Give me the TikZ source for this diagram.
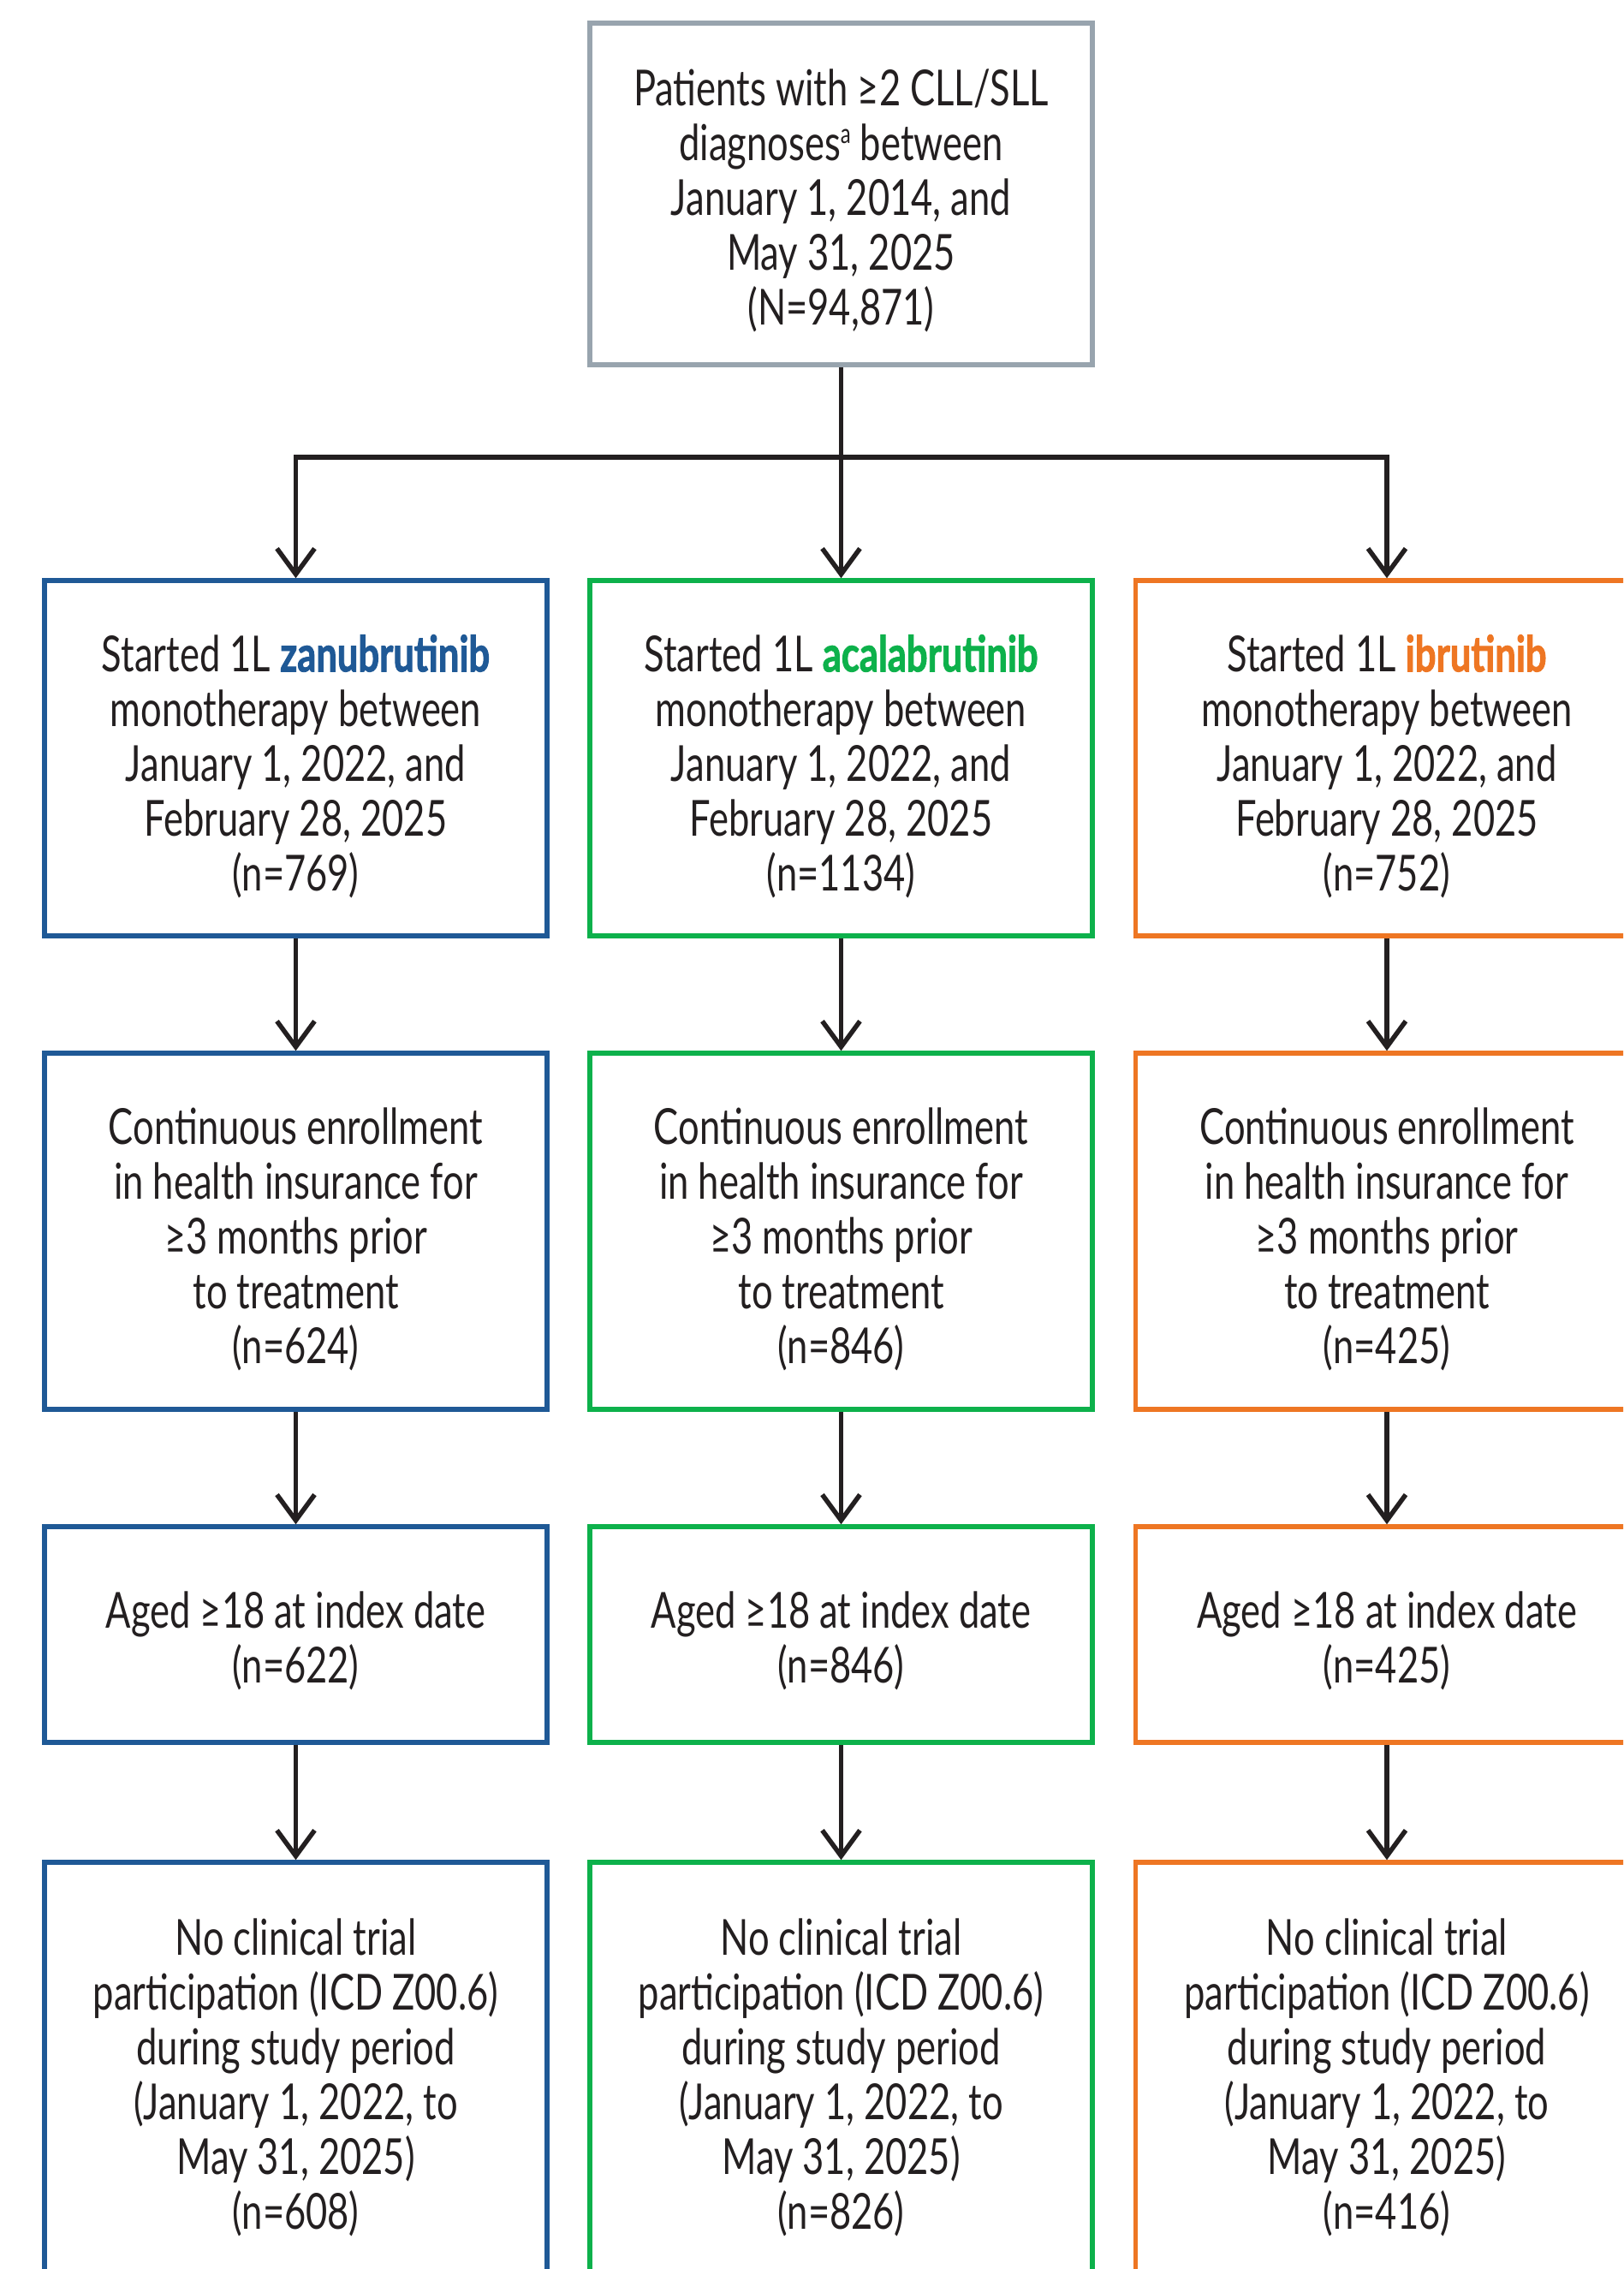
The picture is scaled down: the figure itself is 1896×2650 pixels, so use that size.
\documentclass[tikz,border=0pt]{standalone}
\usepackage{fontspec}
\setmainfont{Lato}[FakeStretch=0.75, BoldFeatures={FakeBold=1.5}]
\usetikzlibrary{arrows.meta}
\definecolor{zblue}{HTML}{1F5996}
\definecolor{agreen}{HTML}{0DB14B}
\definecolor{iorange}{HTML}{EE7623}
\definecolor{tgray}{HTML}{98A4AE}
\definecolor{ink}{HTML}{231F20}
\newcommand{\supa}{\raisebox{20pt}{\fontsize{32}{32}\selectfont a}}
\begin{document}
\begin{tikzpicture}[x=1pt,y=-1pt,
  box/.style={draw, line width=5.5pt, minimum width=587pt, inner sep=0pt},
  txt/.style={align=center, text=ink, inner sep=0pt, font=\fontsize{58}{64}\selectfont},
  topbox/.style={box, draw=tgray, minimum height=399pt},
  zbox/.style={box, draw=zblue},
  abox/.style={box, draw=agreen},
  ibox/.style={box, draw=iorange},
  arr/.style={draw=ink, line width=5.5pt, -{Straight Barb[length=30pt,width=44pt]}}]
\useasboundingbox (0,0) rectangle (1896,2650);
\clip (0,0) rectangle (1896,2650);
\fill[white] (0,0) rectangle (1896,2650);

\node[topbox] (top) at (982.5,226.5) {};
\node[txt] (topt) at (982.5,234) {Patients with ≥2 CLL/SLL\\diagnoses\supa{} between\\January 1, 2014, and\\May 31, 2025\\(N=94,871)};

% row 1
\node[zbox, minimum height=415pt] (z1) at (345.5,885.5) {};
\node[abox, minimum height=415pt] (a1) at (982.5,885.5) {};
\node[ibox, minimum height=415pt] (i1) at (1620,885.5) {};
\node[txt] (z1t) at (345.5,895) {Started 1L \textbf{\color{zblue}zanubrutinib}\\monotherapy between\\January 1, 2022, and\\February 28, 2025\\(n=769)};
\node[txt] (a1t) at (982.5,895) {Started 1L \textbf{\color{agreen}acalabrutinib}\\monotherapy between\\January 1, 2022, and\\February 28, 2025\\(n=1134)};
\node[txt] (i1t) at (1620,895) {Started 1L \textbf{\color{iorange}ibrutinib}\\monotherapy between\\January 1, 2022, and\\February 28, 2025\\(n=752)};

% row 2
\node[zbox, minimum height=416pt] (z2) at (345.5,1438) {};
\node[abox, minimum height=416pt] (a2) at (982.5,1438) {};
\node[ibox, minimum height=416pt] (i2) at (1620,1438) {};
\node[txt] (z2t) at (345.5,1447) {Continuous enrollment\\in health insurance for\\≥3 months prior\\to treatment\\(n=624)};
\node[txt] (a2t) at (982.5,1447) {Continuous enrollment\\in health insurance for\\≥3 months prior\\to treatment\\(n=846)};
\node[txt] (i2t) at (1620,1447) {Continuous enrollment\\in health insurance for\\≥3 months prior\\to treatment\\(n=425)};

% row 3
\node[zbox, minimum height=252pt] (z3) at (345.5,1909) {};
\node[abox, minimum height=252pt] (a3) at (982.5,1909) {};
\node[ibox, minimum height=252pt] (i3) at (1620,1909) {};
\node[txt] (z3t) at (345.5,1916) {Aged ≥18 at index date\\(n=622)};
\node[txt] (a3t) at (982.5,1916) {Aged ≥18 at index date\\(n=846)};
\node[txt] (i3t) at (1620,1916) {Aged ≥18 at index date\\(n=425)};

% row 4
\node[zbox, minimum height=496pt] (z4) at (345.5,2423) {};
\node[abox, minimum height=496pt] (a4) at (982.5,2423) {};
\node[ibox, minimum height=496pt] (i4) at (1620,2423) {};
\node[txt] (z4t) at (345.5,2426) {No clinical trial\\participation (ICD Z00.6)\\during study period\\(January 1, 2022, to\\May 31, 2025)\\(n=608)};
\node[txt] (a4t) at (982.5,2426) {No clinical trial\\participation (ICD Z00.6)\\during study period\\(January 1, 2022, to\\May 31, 2025)\\(n=826)};
\node[txt] (i4t) at (1620,2426) {No clinical trial\\participation (ICD Z00.6)\\during study period\\(January 1, 2022, to\\May 31, 2025)\\(n=416)};

% connectors
\coordinate (split) at (982.5,534);
\draw[arr] (top.south) -- (a1.north);
\draw[arr] (split) -| (z1.north);
\draw[arr] (split) -| (i1.north);
\draw[arr] (z1.south) -- (z2.north);
\draw[arr] (a1.south) -- (a2.north);
\draw[arr] (i1.south) -- (i2.north);
\draw[arr] (z2.south) -- (z3.north);
\draw[arr] (a2.south) -- (a3.north);
\draw[arr] (i2.south) -- (i3.north);
\draw[arr] (z3.south) -- (z4.north);
\draw[arr] (a3.south) -- (a4.north);
\draw[arr] (i3.south) -- (i4.north);
\end{tikzpicture}
\end{document}
